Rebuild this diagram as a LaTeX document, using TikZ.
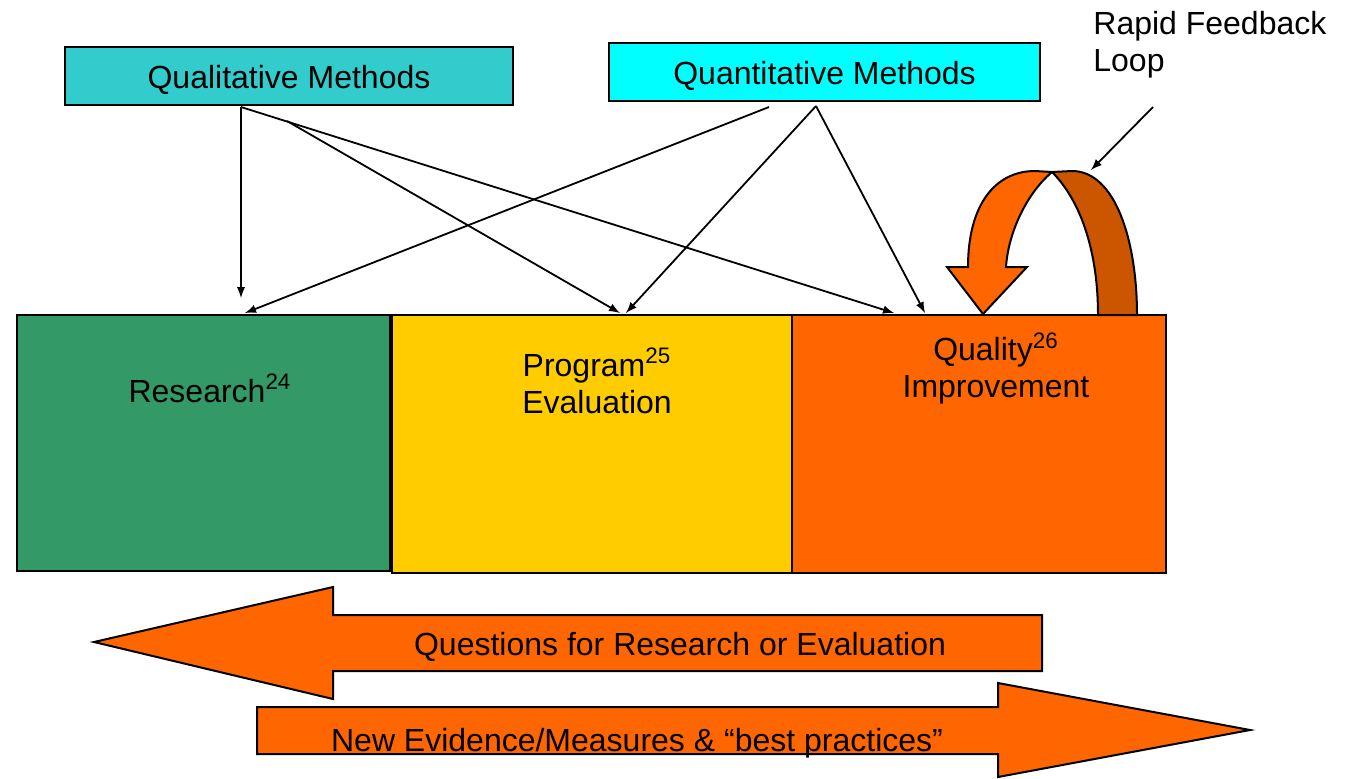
\documentclass[tikz,border=0pt]{standalone}
\usepackage{fontspec}
\setmainfont{Liberation Sans}
\usetikzlibrary{arrows}
\definecolor{qualcol}{HTML}{33CCCC}
\definecolor{quantcol}{HTML}{00FFFF}
\definecolor{rescol}{HTML}{339966}
\definecolor{evalcol}{HTML}{FFCC00}
\definecolor{qicol}{HTML}{FF6600}
\definecolor{loopcol}{HTML}{CC5500}

\begin{document}
\begin{tikzpicture}[x=0.5pt, y=-0.5pt,
  box/.style={draw, line width=1pt, inner sep=0pt},
  lbl/.style={align=center, font=\fontsize{16}{18.5}\selectfont},
  link/.style={-latex, line width=0.9pt},
  ribbon/.style={draw, line width=1pt, line join=miter}]
  \def\Ytop{313};
  \useasboundingbox (0,0) rectangle (1349,778);

  % methods
        \node[box, lbl, fill=qualcol, minimum width=224pt, minimum height=29pt] (qual) at (289,76) {};
        \node[box, lbl, fill=quantcol, minimum width=215.5pt, minimum height=29pt] (quant) at (824.5,72) {};
        \node[lbl] (qual-txt) at (289,79.5) {Qualitative Methods};
        \node[lbl] (quant-txt) at (824.5,75.5) {Quantitative Methods};

  % the three fields
        \node[box, fill=rescol, minimum width=186.5pt, minimum height=128pt] (research) at (203.5,443) {};
        \node[box, fill=evalcol, minimum width=200pt, minimum height=129pt] (eval) at (592,444) {};
        \node[box, fill=qicol, minimum width=187pt, minimum height=129pt] (qi) at (979,444) {};
        \node[lbl] (research-txt) at (210,388.5) {Research\textsuperscript{24}};
        \node[lbl] (eval-txt) at (597,381) {Program\textsuperscript{25}\\Evaluation};
        \node[lbl] (qi-txt) at (996,368.5) {Quality\textsuperscript{26}\\Improvement};

  % feedback loop
	\draw[ribbon, fill=loopcol] (1052,172) -- (1072,171) .. controls (1115,171) and (1137,240) .. (1137,315) -- (1098,315) .. controls (1098,250) and (1080,200) .. (1052,172) -- cycle;
	\draw[ribbon, fill=qicol] (947,267) -- (968,267) .. controls (968,205) and (995,171) .. (1035,171) -- (1052,172) .. controls (1025,195) and (1008,235) .. (1006,267) -- (1027,267) -- (983,314) -- cycle;
        \node[lbl, align=left, anchor=north west, inner sep=0pt] (fb-txt) at (1093,11) {Rapid Feedback\\Loop};
        \coordinate (fb-a) at (1153,107);
        \coordinate (fb-b) at (1091,170);
	\draw[link] (fb-a) -- (fb-b);

  % links from the methods
        \coordinate (ql-a) at (241,107);
        \coordinate (ql-b) at (287,121);
        \coordinate (qn-a) at (769,107);
        \coordinate (qn-b) at (816,106);
        \coordinate (res-a) at (241,298);
        \coordinate (res-b) at (245,\Ytop);
        \coordinate (eval-a) at (620,\Ytop);
        \coordinate (eval-b) at (626,\Ytop);
        \coordinate (qi-a) at (894,\Ytop);
        \coordinate (qi-b) at (925,\Ytop);
	\draw[link] (ql-a) -- (res-a);
	\draw[link] (ql-a) -- (qi-a);
	\draw[link] (ql-b) -- (eval-a);
	\draw[link] (qn-a) -- (res-b);
	\draw[link] (qn-b) -- (eval-b);
	\draw[link] (qn-b) -- (qi-b);

  % big arrows
	\draw[ribbon, fill=qicol] (1042,615) -- (333,615) -- (333,587) -- (94,642) -- (333,699) -- (333,671) -- (1042,671) -- cycle;
	\draw[ribbon, fill=qicol] (257,707) -- (998,707) -- (998,683) -- (1250,730) -- (998,777) -- (998,754) -- (257,754) -- cycle;
        \node[lbl] (quest-txt) at (680,647) {Questions for Research or Evaluation};
        \node[lbl] (evid-txt) at (637,743) {New Evidence/Measures \& ``best practices''};
\end{tikzpicture}
\end{document}
